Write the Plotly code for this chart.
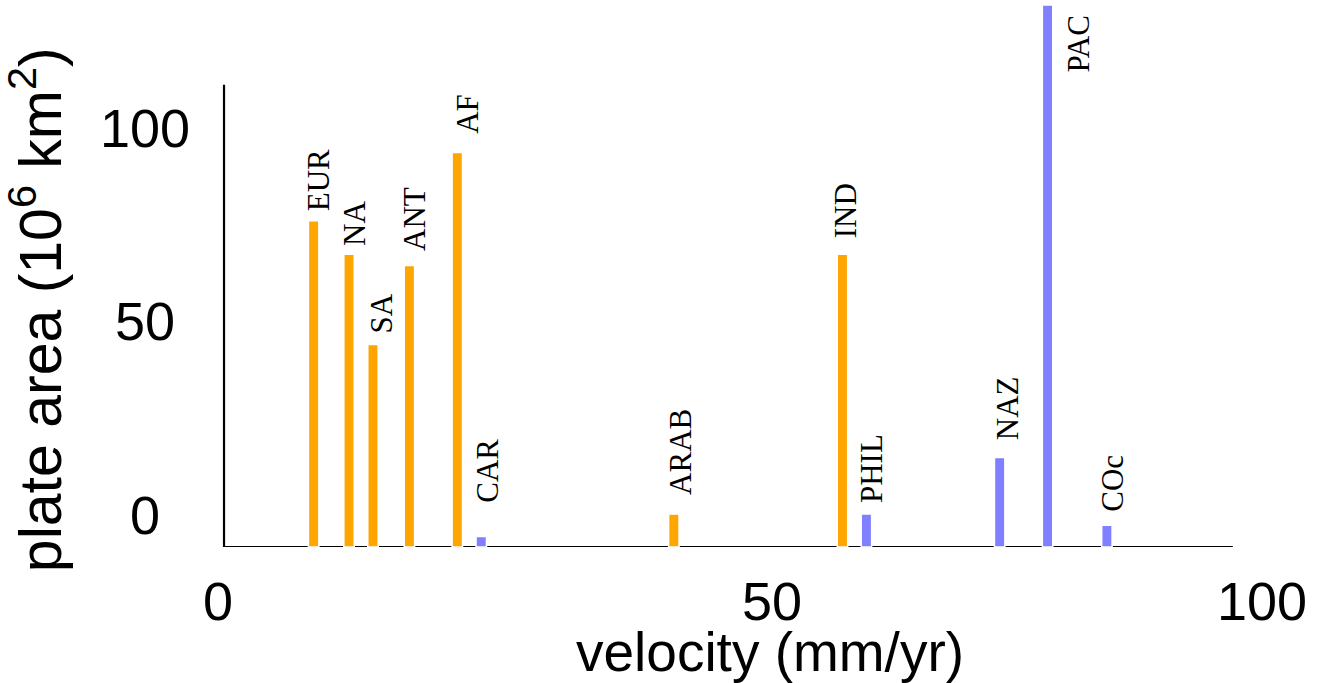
import plotly.graph_objects as go

# ---- data ----
cont_names = ["EUR", "NA", "SA", "ANT", "AF", "ARAB", "IND"]
cont_velocity = [8.9, 12.3, 14.6, 18.1, 22.7, 43.5, 59.7]   # mm/yr
cont_area = [84.3, 75.6, 52.3, 72.7, 101.9, 8.5, 75.6]      # 10^6 km^2

ocean_names = ["CAR", "PHIL", "NAZ", "PAC", "COc"]
ocean_velocity = [25.0, 62.0, 74.8, 79.4, 85.1]
ocean_area = [2.7, 8.5, 23.1, 140.0, 5.6]

x_ticks = [0, 50, 100]
y_ticks = [0, 50, 100]

# ---- styling ----
ORANGE = "#FFA500"
BLUE = "#7F7FFF"
SANS = "Helvetica Neue, Liberation Sans, Arial, sans-serif"
SERIF = "Liberation Serif, Times New Roman, serif"

# label nudges (pixels): (dx, gap above bar top)
label_nudge = {
    "EUR": (5, 7), "NA": (6, 6), "SA": (9, 9), "ANT": (5, 13), "AF": (10, 17),
    "CAR": (6, 32), "ARAB": (6, 17), "IND": (3, 14), "PHIL": (5, 9),
    "NAZ": (8, 15), "COc": (6, 12),
}
# x tick label nudges (pixels), as placed in the reference drawing
x_tick_nudge = {0: -3, 50: 30, 100: 0}

fig = go.Figure()
bar_line = dict(color="white", width=1.5)
fig.add_trace(go.Bar(x=cont_velocity, y=cont_area, width=1.0,
                     marker=dict(color=ORANGE, line=bar_line), showlegend=False))
fig.add_trace(go.Bar(x=ocean_velocity, y=ocean_area, width=1.0,
                     marker=dict(color=BLUE, line=bar_line), showlegend=False))

annotations = []
for names, xs, ys in ((cont_names, cont_velocity, cont_area),
                      (ocean_names, ocean_velocity, ocean_area)):
    for n, xv, yv in zip(names, xs, ys):
        if n == "PAC":
            annotations.append(dict(x=xv, y=yv, xref="x", yref="y", text=n,
                                    textangle=-90, showarrow=False,
                                    xanchor="left", yanchor="top",
                                    xshift=11, yshift=-9,
                                    font=dict(family=SERIF, size=31, color="black")))
        else:
            dx, gap = label_nudge.get(n, (5, 8))
            annotations.append(dict(x=xv, y=yv, xref="x", yref="y", text=n,
                                    textangle=-90, showarrow=False,
                                    xanchor="center", yanchor="bottom",
                                    xshift=dx, yshift=gap,
                                    font=dict(family=SERIF, size=31, color="black")))

# y tick labels (centred, as in the reference)
for t in y_ticks:
    annotations.append(dict(x=0, y=t, xref="paper", yref="y", text=str(t),
                            showarrow=False, xanchor="center", yanchor="middle",
                            xshift=-76, yshift=32,
                            font=dict(family=SANS, size=54, color="black")))

# x tick labels
for t in x_ticks:
    annotations.append(dict(x=t, y=0, xref="x", yref="paper", text=str(t),
                            showarrow=False, xanchor="center", yanchor="middle",
                            xshift=x_tick_nudge.get(t, 0), yshift=-54,
                            font=dict(family=SANS, size=54, color="black")))

# axis titles
annotations.append(dict(x=0.527, y=0, xref="paper", yref="paper",
                        text="velocity (mm/yr)", showarrow=False,
                        xanchor="center", yanchor="top", yshift=-72,
                        font=dict(family=SANS, size=55, color="black")))
annotations.append(dict(x=0, y=0.433, xref="paper", yref="paper",
                        text="plate area (10<sup>6</sup> km<sup>2</sup>)",
                        showarrow=False, textangle=-90,
                        xanchor="center", yanchor="middle", xshift=-185,
                        font=dict(family=SANS, size=59, color="black")))

# axis lines
shapes = [
    dict(type="line", xref="x", yref="y", x0=0.29, x1=97.2, y0=0, y1=0,
         line=dict(color="black", width=2.2), layer="below"),
    dict(type="line", xref="x", yref="y", x0=0.29, x1=0.29, y0=0, y1=119.4,
         line=dict(color="black", width=2.2), layer="below"),
]

fig.update_layout(
    width=1332, height=683,
    margin=dict(l=221, r=70, t=0, b=136),
    paper_bgcolor="white", plot_bgcolor="white",
    barmode="overlay",
    annotations=annotations,
    shapes=shapes,
    xaxis=dict(range=[0, 100], showgrid=False, zeroline=False, showline=False,
               showticklabels=False, ticks=""),
    yaxis=dict(range=[0, 141.3], showgrid=False, zeroline=False, showline=False,
               showticklabels=False, ticks=""),
)

fig.write_html("out.html",
               config={"displayModeBar": False},
               post_script="document.body.style.margin='0';"
                           "document.body.style.overflow='hidden';")
